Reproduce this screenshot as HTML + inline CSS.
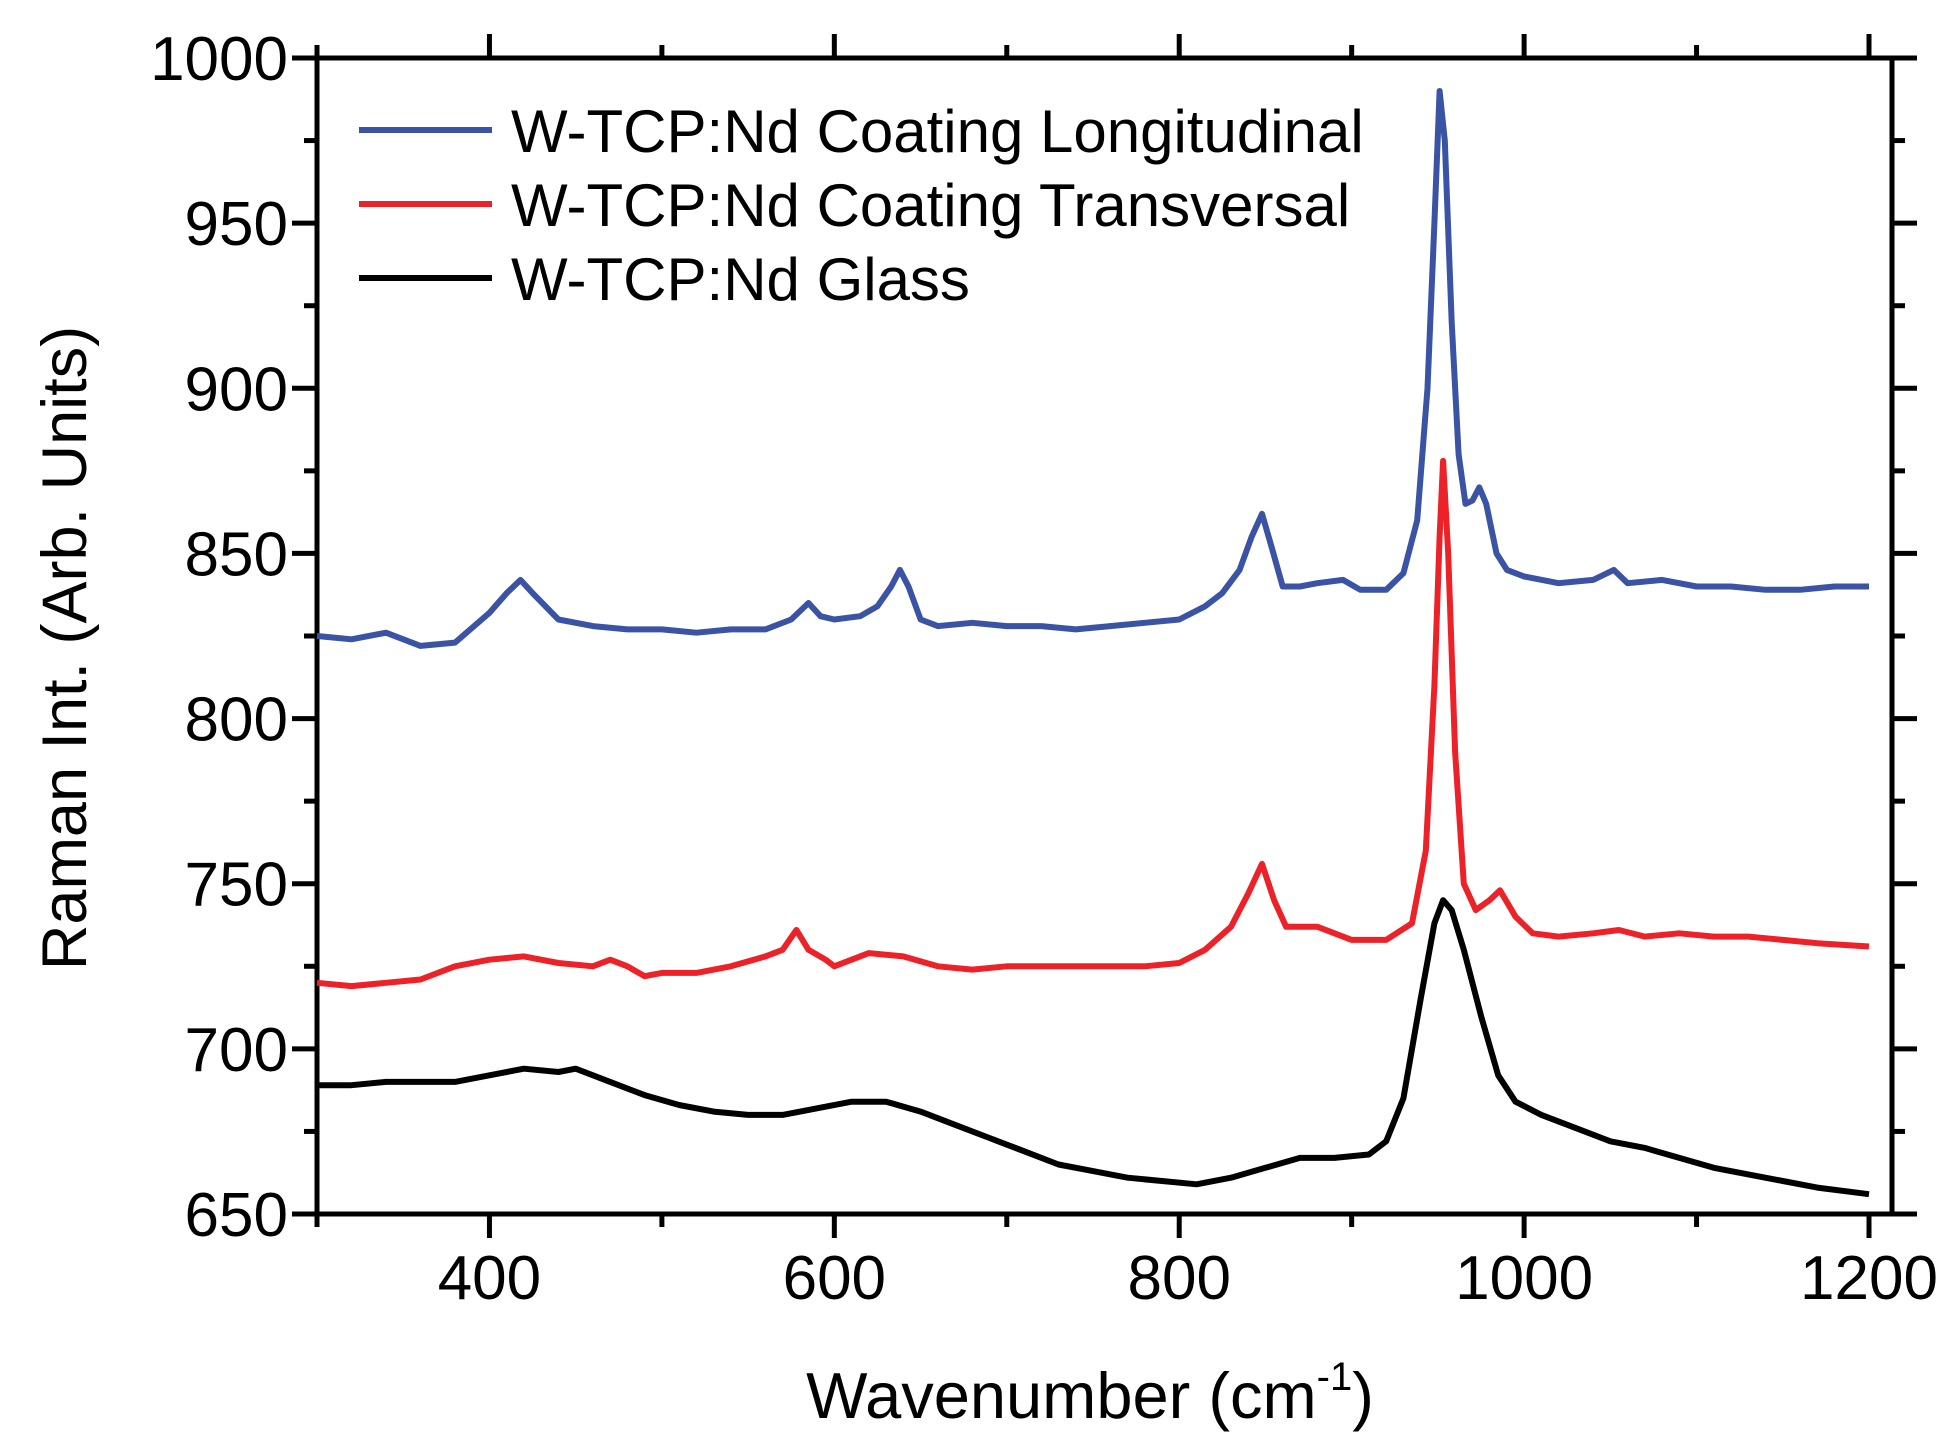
<!DOCTYPE html>
<html><head><meta charset="utf-8"><style>
body{margin:0;background:#fff}
svg{display:block;font-family:"Liberation Sans",Arial,sans-serif}
</style></head><body>
<svg id="chart" width="1953" height="1448" viewBox="0 0 1953 1448">
<g id="axes"></g>
<g id="series"></g>
<g id="legend"></g>
<text x="1090" y="1418" font-size="65" text-anchor="middle">Wavenumber (cm<tspan font-size="40" dy="-28">-1</tspan><tspan dy="28">)</tspan></text>
<text transform="translate(86,648) rotate(-90)" font-size="63" text-anchor="middle">Raman Int. (Arb. Units)</text>
</svg>
<script>
const xTicks=[400,600,800,1000,1200];
const yTicks=[650,700,750,800,850,900,950,1000];
const seriesNames=["W-TCP:Nd Coating Longitudinal","W-TCP:Nd Coating Transversal","W-TCP:Nd Glass"];
const seriesColors=["#3a53a4","#ed2128","#000000"];
const longX=[300,320,340,360,380,400,410,418,425,440,460,480,500,520,540,560,575,585,592,600,615,625,633,638,643,650,660,680,700,720,740,760,780,800,815,825,835,842,848,853,860,870,880,895,905,920,930,938,944,948,951,954,958,962,966,970,974,978,984,990,1000,1020,1040,1052,1060,1080,1100,1120,1140,1160,1180,1200];
const longY=[825,824,826,822,823,832,838,842,838,830,828,827,827,826,827,827,830,835,831,830,831,834,840,845,840,830,828,829,828,828,827,828,829,830,834,838,845,855,862,853,840,840,841,842,839,839,844,860,900,950,990,975,920,880,865,866,870,865,850,845,843,841,842,845,841,842,840,840,839,839,840,840];
const transX=[300,320,340,360,380,400,420,440,460,470,480,490,500,520,540,560,570,578,585,595,600,620,640,660,680,700,720,740,760,780,800,815,830,840,848,855,862,880,900,920,935,943,948,951,953,956,960,965,972,980,986,995,1005,1020,1040,1055,1070,1090,1110,1130,1150,1170,1200];
const transY=[720,719,720,721,725,727,728,726,725,727,725,722,723,723,725,728,730,736,730,727,725,729,728,725,724,725,725,725,725,725,726,730,737,747,756,745,737,737,733,733,738,760,810,855,878,850,790,750,742,745,748,740,735,734,735,736,734,735,734,734,733,732,731];
const glassX=[300,320,340,360,380,400,420,440,450,470,490,510,530,550,570,590,610,630,650,670,690,710,730,750,770,790,810,830,850,870,890,910,920,930,940,948,953,958,965,975,985,995,1010,1030,1050,1070,1090,1110,1130,1150,1170,1200];
const glassY=[689,689,690,690,690,692,694,693,694,690,686,683,681,680,680,682,684,684,681,677,673,669,665,663,661,660,659,661,664,667,667,668,672,685,715,738,745,742,730,710,692,684,680,676,672,670,667,664,662,660,658,656];

const X0=317,X1=1869,Y0=1214,Y1=58,RIGHT=1892;
const sx=v=>X0+(v-300)*(X1-X0)/900;
const sy=v=>Y0-(v-650)*(Y0-Y1)/350;
const NS="http://www.w3.org/2000/svg";
function mk(tag,attrs,parent){const e=document.createElementNS(NS,tag);for(const k in attrs)e.setAttribute(k,attrs[k]);parent.appendChild(e);return e;}
const axes=document.getElementById('axes');
const frame=mk('rect',{x:X0,y:Y1,width:RIGHT-X0,height:Y0-Y1,fill:'none',stroke:'#000','stroke-width':5},axes);


for(let v=300;v<=1200;v+=100){
  const major=xTicks.includes(v);const L=major?24:13;const x=sx(v);
  const t1=mk('line',{x1:x,x2:x,y1:Y0,y2:Y0+L,stroke:'#000','stroke-width':5},axes);
  
  
  const t2=mk('line',{x1:x,x2:x,y1:Y1,y2:Y1-L,stroke:'#000','stroke-width':5},axes);
  
  
}
xTicks.forEach(v=>{
  const t=mk('text',{x:sx(v),y:1299,'font-size':62,'text-anchor':'middle'},axes);t.textContent=v;
  
  
});
for(let v=650;v<=1000;v+=25){
  const major=yTicks.includes(v);const L=major?25:13;const y=sy(v);
  const t1=mk('line',{x1:X0,x2:X0-L,y1:y,y2:y,stroke:'#000','stroke-width':5},axes);
  
  
  const t2=mk('line',{x1:RIGHT,x2:RIGHT+L,y1:y,y2:y,stroke:'#000','stroke-width':5},axes);
  
  
}
yTicks.forEach(v=>{
  const t=mk('text',{x:288,y:sy(v)+22,'font-size':62,'text-anchor':'end'},axes);t.textContent=v;
  
  
});
const ser=document.getElementById('series');
const data=[[longX,longY],[transX,transY],[glassX,glassY]];
const sNames=['longitudinal-line','transversal-line','glass-line'];
data.forEach((d,i)=>{
  const pts=d[0].map((x,j)=>sx(x).toFixed(1)+','+sy(d[1][j]).toFixed(1)).join(' ');
  const p=mk('polyline',{points:pts,fill:'none',stroke:seriesColors[i],'stroke-width':6,'stroke-linejoin':'round'},ser);
  
  
});
const lg=document.getElementById('legend');
seriesNames.forEach((n,i)=>{
  const y=130+i*74;
  const l=mk('line',{x1:359,x2:492,y1:y,y2:y,stroke:seriesColors[i],'stroke-width':6},lg);
  
  
  const t=mk('text',{x:511,y:y+22,'font-size':60},lg);t.textContent=n;
  
  
});
</script>
</body></html>
